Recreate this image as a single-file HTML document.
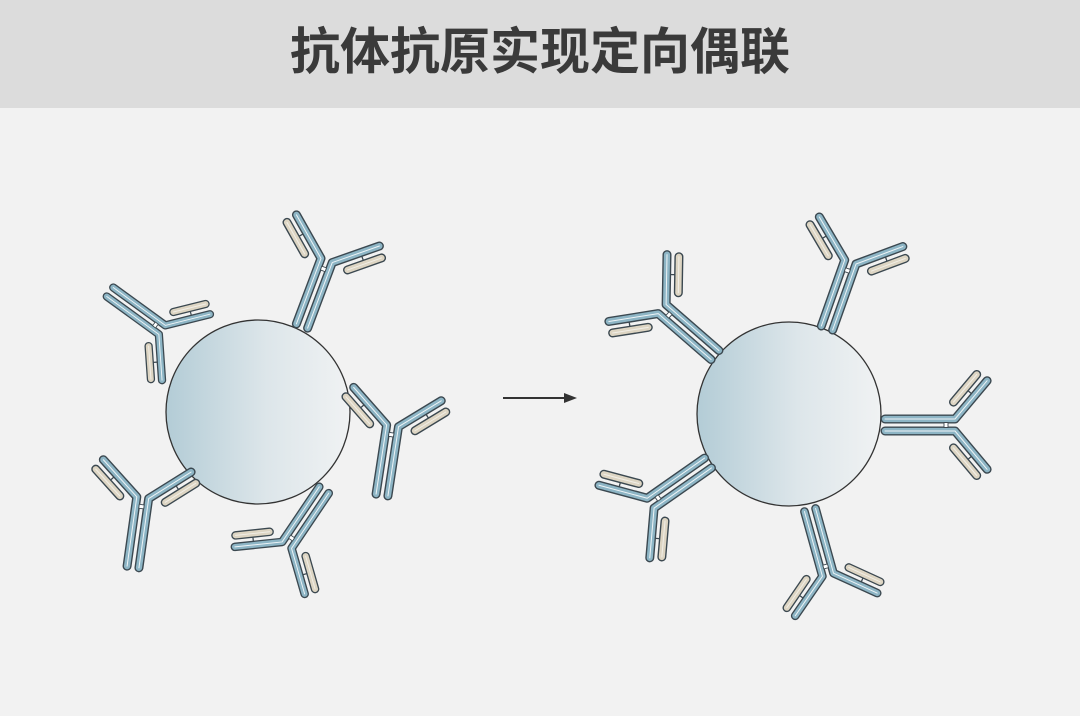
<!DOCTYPE html>
<html><head><meta charset="utf-8"><style>
html,body{margin:0;padding:0;}
body{width:1080px;height:716px;background:#f2f2f2;overflow:hidden;font-family:"Liberation Sans","Noto Sans CJK SC",sans-serif;}
.hd{position:absolute;left:0;top:0;width:1080px;height:108px;background:#dcdcdc;}
.hd div{position:absolute;left:0;width:1080px;top:20px;text-align:center;font-size:50px;font-weight:bold;color:#3a3a3a;line-height:64px;}
svg{position:absolute;left:0;top:0;}
</style></head><body>
<div class="hd"><div>抗体抗原实现定向偶联</div></div>
<svg width="1080" height="716" viewBox="0 0 1080 716">
<defs>
<linearGradient id="g" x1="0" x2="1" y1="0" y2="0">
<stop offset="0" stop-color="#b3ccd6"/><stop offset="0.55" stop-color="#dde6ea"/><stop offset="1" stop-color="#f0f2f3"/>
</linearGradient>
<g id="ab" fill="none" stroke-linecap="round" stroke-linejoin="round">
<path d="M-29,-89.3 L-36.7,-80.1 M29,-89.3 L36.7,-80.1" stroke="#3b4850" stroke-width="1.3"/>
<path d="M-22.9,-68.5 L-50.5,-91.7 M22.9,-68.5 L50.5,-91.7" stroke="#3b4850" stroke-width="9"/>
<path d="M-22.9,-68.5 L-50.5,-91.7 M22.9,-68.5 L50.5,-91.7" stroke="#ddd5c3" stroke-width="6.2"/>
<path d="M-22.9,-68.5 L-50.5,-91.7 M22.9,-68.5 L50.5,-91.7" stroke="#fff" stroke-width="1" opacity="0.6"/>
<path d="M-6,0 L-6,-70 L-44.3,-102.1 M6,0 L6,-70 L44.3,-102.1" stroke="#3b4850" stroke-width="9"/>
<path d="M-6,0 L-6,-70 L-44.3,-102.1 M6,0 L6,-70 L44.3,-102.1" stroke="#8db5c5" stroke-width="6.2"/>
<path d="M-6,0 L-6,-70 L-44.3,-102.1 M6,0 L6,-70 L44.3,-102.1" stroke="#fff" stroke-width="1" opacity="0.85"/>
<rect x="-2.5" y="-63" width="5" height="4" fill="#fff" stroke="#3b4850" stroke-width="0.9"/>
</g>
</defs>

<circle cx="258" cy="412" r="92" fill="url(#g)" stroke="#333" stroke-width="1.3"/>
<circle cx="789" cy="414" r="92" fill="url(#g)" stroke="#333" stroke-width="1.3"/>

<use href="#ab" transform="translate(302,326) rotate(20.6)"/>
<use href="#ab" transform="translate(110,292) rotate(126) scale(0.92)"/>
<use href="#ab" transform="translate(133,567) rotate(8)"/>
<use href="#ab" transform="translate(324,490) rotate(214) scale(0.95)"/>
<use href="#ab" transform="translate(382,495) rotate(8.7)"/>

<use href="#ab" transform="translate(715,355) rotate(-49)"/>
<use href="#ab" transform="translate(827,328) rotate(19.5)"/>
<use href="#ab" transform="translate(885,425) rotate(90)"/>
<use href="#ab" transform="translate(708,463) rotate(-125)"/>
<use href="#ab" transform="translate(810,510) rotate(164.5) scale(0.96)"/>

<line x1="503" y1="398" x2="566" y2="398" stroke="#333" stroke-width="2"/>
<polygon points="577,398 564,393 564,403" fill="#333"/>
</svg>
</body></html>
